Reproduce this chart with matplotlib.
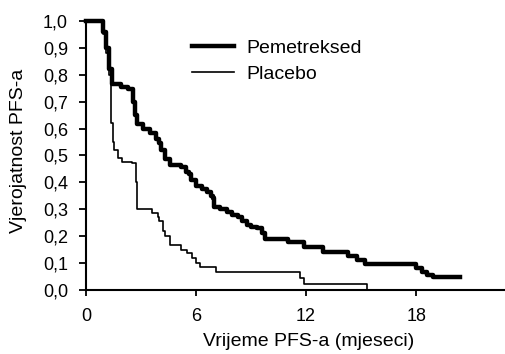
import matplotlib
matplotlib.use("Agg")
import matplotlib.pyplot as plt

# Kaplan-Meier krivulje (ocitano sa slike)
pem_t = [0, 0.93, 1.1, 1.25, 1.4, 1.9, 2.3, 2.55, 2.65, 2.8, 3.1, 3.5, 3.8, 4.0,
         4.1, 4.3, 4.6, 5.2, 5.45, 5.6, 5.7, 6.0, 6.3, 6.6, 6.8, 6.9, 7.0, 7.3,
         7.7, 7.95, 8.3, 8.5, 8.8, 9.0, 9.3, 9.6, 9.75, 11.0, 11.9, 12.9, 14.3,
         14.8, 15.2, 18.0, 18.3, 18.6, 18.9, 20.4]
pem_s = [1.0, 0.96, 0.9, 0.82, 0.765, 0.755, 0.745, 0.70, 0.65, 0.615, 0.60, 0.585,
         0.56, 0.545, 0.52, 0.485, 0.465, 0.457, 0.44, 0.43, 0.41, 0.385, 0.375,
         0.365, 0.35, 0.34, 0.31, 0.30, 0.29, 0.28, 0.27, 0.255, 0.24, 0.235,
         0.23, 0.21, 0.19, 0.177, 0.16, 0.14, 0.125, 0.11, 0.097, 0.08, 0.067,
         0.056, 0.047, 0.047]

pla_t = [0, 0.93, 1.1, 1.25, 1.36, 1.45, 1.55, 1.75, 1.95, 2.5, 2.75, 2.8, 3.6,
         3.9, 4.0, 4.2, 4.3, 4.6, 5.2, 5.5, 5.8, 6.0, 6.2, 7.1, 11.65, 11.9, 15.3]
pla_s = [1.0, 0.95, 0.88, 0.80, 0.62, 0.55, 0.52, 0.49, 0.476, 0.47, 0.40, 0.30,
         0.285, 0.27, 0.255, 0.22, 0.20, 0.167, 0.15, 0.137, 0.12, 0.10, 0.085,
         0.067, 0.045, 0.022, 0.0]

x_ticks = [0, 6, 12, 18]
y_ticks = [0.0, 0.1, 0.2, 0.3, 0.4, 0.5, 0.6, 0.7, 0.8, 0.9, 1.0]

plt.rcParams['font.family'] = ['Liberation Sans', 'DejaVu Sans']

fig = plt.figure(figsize=(5.06, 3.54), dpi=100)
ax = fig.add_axes([0.170, 0.181, 0.83, 0.760])

ax.plot(pem_t, pem_s, drawstyle='steps-post', color='black', lw=3.2,
        label='Pemetreksed', clip_on=False)
ax.plot(pla_t, pla_s, drawstyle='steps-post', color='black', lw=1.2,
        label='Placebo', clip_on=False)

ax.set_xlim(0, 22.9)
ax.set_ylim(0, 1.0)
ax.set_xticks(x_ticks)
ax.set_yticks(y_ticks)
ax.set_yticklabels([f'{v:.1f}'.replace('.', ',') for v in y_ticks])

ax.spines['top'].set_visible(False)
ax.spines['right'].set_visible(False)
ax.spines['left'].set_linewidth(1.5)
ax.spines['bottom'].set_linewidth(1.5)
ax.tick_params(axis='x', length=4, width=1.3, pad=9, labelsize=13)
ax.tick_params(axis='y', length=5, width=1.3, pad=8, labelsize=13)

# oznake osi
fig.text(0.609, 0.034, 'Vrijeme PFS-a (mjeseci)', fontsize=14,
         ha='center', va='center')
fig.text(0.036, 0.573, 'Vjerojatnost PFS-a', rotation=90, fontsize=14,
         ha='center', va='center')

ax.legend(loc='upper left', bbox_to_anchor=(0.21, 0.997), frameon=False,
          fontsize=14, handlelength=2.2, handletextpad=0.6,
          labelspacing=0.45)

plt.savefig('out.png', dpi=100)
